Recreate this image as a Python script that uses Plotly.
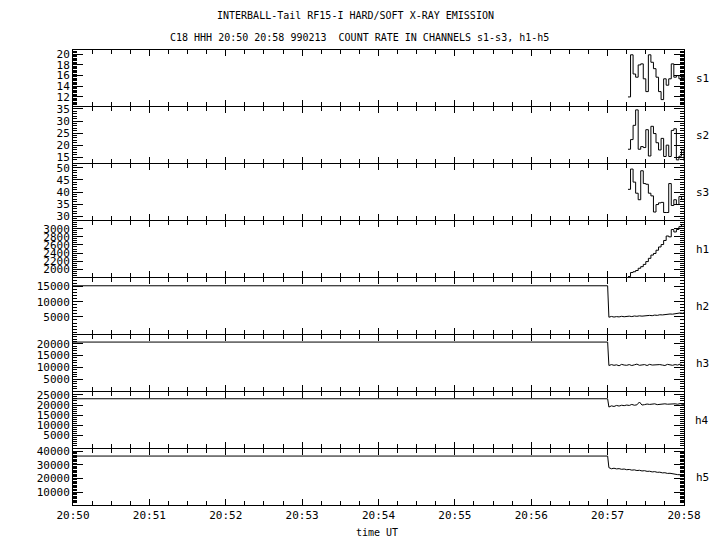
import plotly.graph_objects as go
from plotly.subplots import make_subplots
import pandas as pd

DAY = "1999-02-13 "
X_RANGE = [DAY + "20:50:00", DAY + "20:58:00"]

# ---- soft channels s1-s3 and h1 (2 s bins from 20:57:16) ----
soft_start = DAY + "20:57:16"
s1 = [12.0, 19.9, 16.3, 15.7, 18.0, 18.2, 15.4, 13.0, 19.9, 18.5, 17.3,
      15.7, 13.0, 11.5, 15.4, 14.2, 15.4, 18.2, 15.7, 16.0, 15.4, 15.7, 15.7]
s2 = [18.3, 22.3, 28.2, 34.6, 18.3, 19.4, 19.0, 26.4, 15.5, 27.8, 24.8,
      21.0, 18.0, 22.8, 15.3, 20.0, 15.3, 26.1, 26.8, 13.9, 15.4, 18.0, 13.5]
s3 = [41.1, 49.5, 44.1, 39.5, 36.8, 48.8, 43.5, 43.2, 39.5, 38.4, 31.7,
      34.8, 35.5, 35.7, 31.5, 31.5, 43.5, 34.4, 36.8, 34.8, 38.1, 37.0, 37.0]
h1 = [1820, 1920, 1940, 1970, 2025, 2065, 2120, 2190, 2270, 2350, 2390,
      2470, 2550, 2610, 2710, 2820, 2800, 2980, 2920, 2980, 3050, 3100, 3100]

# ---- hard channels h2-h5: level before 20:57, then 2 s samples ----
pre_times = [DAY + "20:50:00", DAY + "20:57:00"]
post_start = DAY + "20:57:01"
h2_pre = 15200
h3_pre = 20750
h4_pre = 23100
h5_pre = 36300
h2_post = [4900, 5150, 4950, 5100, 5000, 5200, 5050, 5150, 5250, 5100, 5300,
           5200, 5350, 5250, 5400, 5350, 5500, 5400, 5600, 5500, 5700, 5650,
           5800, 5750, 5950, 5900, 6100, 6050, 6300, 6200, 6600]
h3_post = [10800, 11200, 10900, 11100, 10700, 11300, 11000, 10900, 11200, 10800,
           11100, 11400, 10900, 11000, 11200, 10800, 11300, 11000, 11100, 10900,
           11200, 11000, 10800, 11300, 11100, 10900, 11200, 11000, 11400, 10900, 11100]
h4_post = [19000, 19600, 19300, 19800, 19500, 19900, 19700, 20000, 19800, 20300,
           19900, 20100, 21500, 20000, 20200, 20500, 20300, 20300, 20600, 20200,
           20400, 20300, 20600, 20400, 20500, 20300, 20600, 20400, 20700, 20300, 20500]
h5_post = [27800, 27000, 27400, 26900, 27100, 26600, 26800, 26300, 26500, 26000,
           26200, 25700, 25900, 25400, 25600, 25100, 25200, 24700, 24900, 24400,
           24500, 24000, 24100, 23600, 23700, 23200, 23200, 22700, 22600, 22000, 21500]

panel_names = ["s1", "s2", "s3", "h1", "h2", "h3", "h4", "h5"]
y_ranges = [[10.3, 20.8], [12.6, 35.8], [28.4, 51.6], [1810, 3190],
            [-600, 17750], [0, 23750], [-1190, 26430], [490, 41460]]
y_ticks = [[12, 14, 16, 18, 20], [15, 20, 25, 30, 35], [30, 35, 40, 45, 50],
           [2000, 2200, 2400, 2600, 2800, 3000], [5000, 10000, 15000],
           [5000, 10000, 15000, 20000], [5000, 10000, 15000, 20000, 25000],
           [10000, 20000, 30000, 40000]]
y_minor = [0.25, 1, 1, 50, 1000, 1000, 1000, 1000]

soft_times = pd.date_range(soft_start, periods=len(s1), freq="2s")
post_times = pd.date_range(post_start, periods=len(h2_post), freq="2s")

FONT = "DejaVu Sans Mono"
# page pixel geometry (page body has an 8 px margin)
OFF = 8
PITCH, PANEL = 57, 56
PL, PR, PT = 73, 684, 50
PB = PT + 7 * PITCH + PANEL
W, H = 720 - 2 * OFF, 550 - 2 * OFF
L, R, T, B = PL - OFF, PR - OFF, PT - OFF, PB - OFF
AREA = PB - PT

fig = make_subplots(rows=8, cols=1, shared_xaxes=True, vertical_spacing=0)

soft = [s1, s2, s3, h1]
for i, vals in enumerate(soft):
    fig.add_trace(go.Scatter(x=soft_times, y=vals, mode="lines",
                             line=dict(color="black", width=1, shape="hv"),
                             showlegend=False), row=i + 1, col=1)

hard = [(h2_pre, h2_post), (h3_pre, h3_post), (h4_pre, h4_post), (h5_pre, h5_post)]
for j, (pre, post) in enumerate(hard):
    xs = list(pd.to_datetime(pre_times)) + list(post_times)
    ys = [pre, pre] + post
    fig.add_trace(go.Scatter(x=xs, y=ys, mode="lines",
                             line=dict(color="black", width=1),
                             showlegend=False), row=j + 5, col=1)

for r in range(1, 9):
    top_px = PT + (r - 1) * PITCH
    bot_px = top_px + PANEL
    dom = [(PB - bot_px) / AREA, (PB - top_px) / AREA]
    fig.update_xaxes(row=r, col=1, type="date", range=X_RANGE,
                     tick0=DAY + "20:50:00", dtick=60000, tickformat="%H:%M",
                     ticks="inside", ticklen=6, tickcolor="black",
                     showline=True, linecolor="black", linewidth=1, mirror="ticks",
                     showgrid=False, zeroline=False,
                     minor=dict(ticks="inside", ticklen=4, dtick=15000,
                                tick0=DAY + "20:50:00", tickcolor="black", showgrid=False),
                     tickfont=dict(family=FONT, size=11, color="black"))
    fig.update_yaxes(row=r, col=1, range=y_ranges[r - 1], domain=dom,
                     tickmode="array", tickvals=y_ticks[r - 1], tickformat="d",
                     ticks="inside", ticklen=10, tickcolor="black",
                     showline=True, linecolor="black", linewidth=1, mirror="ticks",
                     showgrid=False, zeroline=False,
                     minor=dict(ticks="inside", ticklen=4, dtick=y_minor[r - 1],
                                tick0=0, tickcolor="black", showgrid=False),
                     tickfont=dict(family=FONT, size=11, color="black"))


def xp(px):
    return (px - PL) / (PR - PL)


def yp(py):
    return (PB - py) / (PB - PT)


annotations = []
for k, name in enumerate(panel_names):
    cy = PT + k * PITCH + PANEL / 2.0
    annotations.append(dict(x=xp(702), y=yp(cy), xref="paper", yref="paper",
                            text=name, showarrow=False, xanchor="center", yanchor="middle",
                            font=dict(family=FONT, size=11, color="black")))
annotations.append(dict(x=xp(355), y=yp(15), xref="paper", yref="paper",
                        text="INTERBALL-Tail RF15-I HARD/SOFT X-RAY EMISSION",
                        showarrow=False, xanchor="center", yanchor="middle",
                        font=dict(family=FONT, size=10, color="black")))
annotations.append(dict(x=xp(359), y=yp(37), xref="paper", yref="paper",
                        text="C18 HHH 20:50 20:58 990213  COUNT RATE IN CHANNELS s1-s3, h1-h5",
                        showarrow=False, xanchor="center", yanchor="middle",
                        font=dict(family=FONT, size=10, color="black")))
annotations.append(dict(x=xp(377), y=yp(532), xref="paper", yref="paper",
                        text="time UT", showarrow=False, xanchor="center", yanchor="middle",
                        font=dict(family=FONT, size=10, color="black")))

fig.update_layout(width=W, height=H, margin=dict(l=L, r=W - R, t=T, b=H - B),
                  paper_bgcolor="white", plot_bgcolor="white",
                  annotations=annotations, showlegend=False)

fig.write_html("out.html")
